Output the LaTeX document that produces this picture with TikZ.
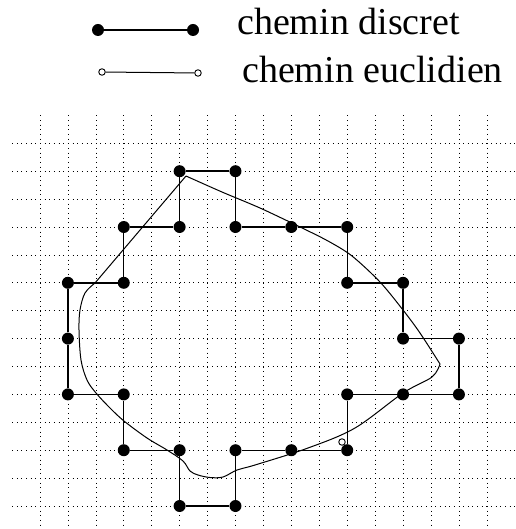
\documentclass[tikz,border=0pt]{standalone}
\usepackage{fontspec}
\setmainfont{Liberation Serif}
\begin{document}
\begin{tikzpicture}[x=1pt,y=-1pt,
  dnode/.style={circle,fill=black,inner sep=0pt,minimum size=12pt},
  enode/.style={circle,draw=black,fill=white,inner sep=0pt,minimum size=6.5pt,line width=0.9pt},
  dpath/.style={line width=1.4pt},
  epath/.style={line width=1pt,line join=round},
  gridline/.style={line width=0.7pt,dash pattern=on 0.7pt off 3.95pt},
  lbl/.style={anchor=base west,inner sep=0pt,font=\fontsize{38}{40}\selectfont}]
\useasboundingbox (0,0) rectangle (515,529);
% grid
\foreach \k in {0,...,16} \draw[gridline] ({40+27.93*\k},115.4) -- ({40+27.93*\k},529);
\foreach \k in {0,...,13} \draw[gridline] (12.1,{143.3+27.9*\k}) -- (515,{143.3+27.9*\k});
% discrete path nodes
\foreach \a/\b in {2/0,3/0,1/1,2/1,3/1,4/1,5/1,0/2,1/2,5/2,6/2,0/3,6/3,7/3,0/4,1/4,5/4,6/4,7/4,1/5,2/5,3/5,4/5,5/5,2/6,3/6}
  \node[dnode] (d\a\b) at ({67.9+55.86*\a},{171.2+55.8*\b}) {};
\draw[dpath] (d20) -- (d30) -- (d31) -- (d41) -- (d51) -- (d52) -- (d62) -- (d63) -- (d73) -- (d74) -- (d64) -- (d54) -- (d55) -- (d45) -- (d35) -- (d36) -- (d26) -- (d25) -- (d15) -- (d14) -- (d04) -- (d03) -- (d02) -- (d12) -- (d11) -- (d21) -- (d20);
% euclidean path
\draw[epath] plot[smooth,tension=0.5] coordinates {(186,176) (222,192) (260,208) (298,226) (328,241) (352,256) (380,282) (403,310) (420,333) (440,364)}
  plot[smooth,tension=0.55] coordinates {(440,364) (432,377) (403,393) (355,428) (308,448) (255,465) (237,470) (223,477) (210,477.5) (198,475) (190,471) (183,461) (167,450) (147,438) (124,421) (110,408) (96,393) (87,380) (81,360) (79,330) (80,310) (85,293) (95,283)}
  -- (186,176);
\node[enode] (start) at (342,442) {};
% legend
\node[dnode] (l1) at (98,30) {};
\node[dnode] (l2) at (193,30) {};
\draw[dpath] (l1) -- (l2);
\node[enode] (l3) at (102,72) {};
\node[enode] (l4) at (198,73) {};
\draw[epath] (l3) -- (l4);
\node[lbl] (t1) at (237,35) {chemin discret};
\node[lbl] (t2) at (242,83) {chemin euclidien};
\end{tikzpicture}
\end{document}
